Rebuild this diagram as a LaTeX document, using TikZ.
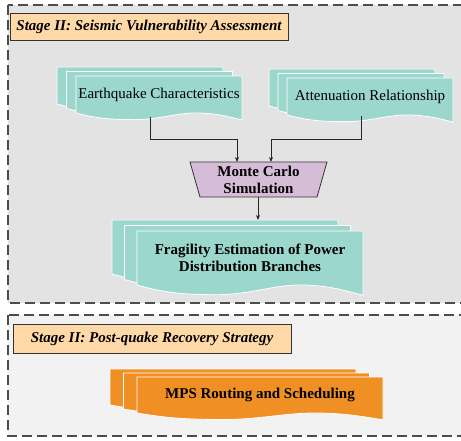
\documentclass[tikz,border=0pt]{standalone}
\usepackage{fontspec}
\setmainfont{Liberation Serif}
\usetikzlibrary{arrows.meta}

% one sheet of a document stack: x, y, width, height, colour
\newcommand{\docsheet}[5]{%
  \draw[white, line width=0.8pt, fill=#5]
    (#1,#2) -- (#1+#3,#2) -- (#1+#3,#2+1.19*#4)
    .. controls (#1+0.92*#3,#2+1.1*#4) and (#1+0.84*#3,#2+#4) .. (#1+0.72*#3,#2+#4)
    .. controls (#1+0.6*#3,#2+#4) and (#1+0.5*#3,#2+1.18*#4) .. (#1+0.35*#3,#2+1.18*#4)
    .. controls (#1+0.2*#3,#2+1.18*#4) and (#1+0.12*#3,#2+1.14*#4) .. (#1,#2+#4)
    -- cycle;}

% three sheets: x, y, width, height, dx, dy, colour
\newcommand{\docstack}[7]{%
  \foreach \k in {2,1,0}
  {
    \docsheet{#1-\k*#5}{#2-\k*#6}{#3}{#4}{#7}
  }}

\begin{document}
\begin{tikzpicture}[x=1pt, y=-1pt,
  every node/.style={font=\fontsize{15}{17.5}\selectfont},
  stagebox/.style={draw=black!80, line width=0.9pt, fill=StagePeach,
    minimum width=278pt, inner sep=0pt,
    font=\fontsize{15}{17.5}\selectfont\bfseries\itshape},
  boxtext/.style={align=center, font=\fontsize{15}{17.5}\selectfont\bfseries},
  conn/.style={black!85, line width=0.8pt},
  arr/.style={conn, -{Stealth[length=5pt, width=4pt]}}]


\definecolor{StagePeach}{HTML}{FFDAA8}
\definecolor{SheetTeal}{HTML}{9BD7CD}
\definecolor{MCLilac}{HTML}{D6BDD7}
\definecolor{MPSOrange}{HTML}{F08F24}
\colorlet{FrameDark}{black!70}

\clip (0,0) rectangle (461,441);

% Stage frames
\draw[FrameDark, line width=1.3pt, dash pattern=on 10pt off 5pt, fill=black!11]
  (8,5) rectangle (470,303);
\draw[FrameDark, line width=1.3pt, dash pattern=on 10pt off 5pt, fill=black!5]
  (8,315) rectangle (470,436);

% Stage titles
\node[stagebox, minimum height=27pt] (stage1) at (149,26.5)
  {Stage II: Seismic Vulnerability Assessment};
\node[stagebox, minimum height=29pt] (stage2) at (152,338.5)
  {Stage II: Post-quake Recovery Strategy};

% Document stacks
\docstack{76}{76}{166}{37}{9.5}{4.5}{SheetTeal}
\docstack{287}{78}{166}{37}{9}{4.5}{SheetTeal}
\docstack{137}{231}{226}{54}{12.5}{5.5}{SheetTeal}
\docstack{137}{377}{246}{36}{13.5}{4}{MPSOrange}

\node[] (quake) at (159,95)  {Earthquake Characteristics};
\node[] (atten) at (370,97)  {Attenuation Relationship};
\node[boxtext] (frag) at (250,258) {Fragility Estimation of Power\\Distribution Branches};
\node[boxtext] (mps)  at (260,395) {MPS Routing and Scheduling};

% Monte Carlo block
\draw[black!80, line width=0.8pt, fill=MCLilac]
  (190,162) -- (327,162) -- (317,197) -- (200,197) -- cycle;
\node[boxtext] (mc) at (258.5,180) {Monte Carlo\\Simulation};

\coordinate (quake-out) at (150,117);
\coordinate (atten-out) at (361,116);
\coordinate (mc-in1)    at (237,162);
\coordinate (mc-in2)    at (271,162);
\coordinate (mc-out)    at (258,197);
\coordinate (frag-in)   at (258,220);

% Connectors
\draw[arr] (quake-out) -- ++(0,22) -| (mc-in1);
\draw[arr] (atten-out) -- ++(0,23) -| (mc-in2);
\draw[arr] (mc-out) -- (frag-in);


\end{tikzpicture}
\end{document}
